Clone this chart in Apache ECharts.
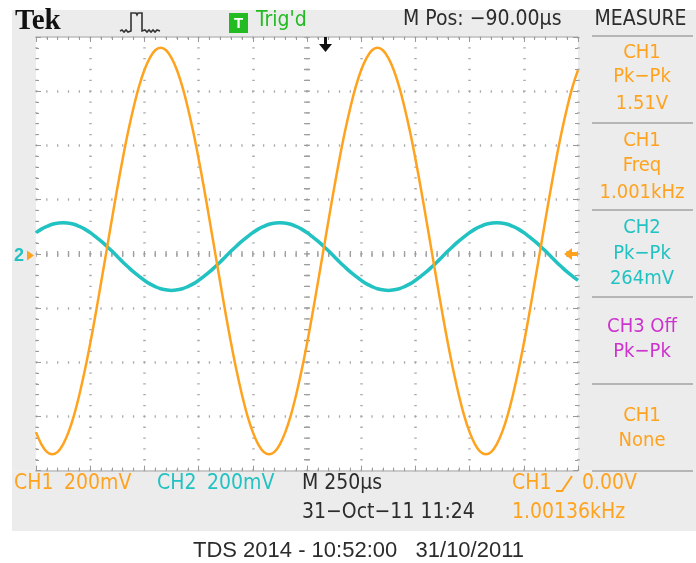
<!DOCTYPE html>
<html><head><meta charset="utf-8">
<script src="https://cdn.jsdelivr.net/npm/echarts@6.0.0/dist/echarts.min.js"></script>
<style>html,body{margin:0;padding:0;background:#fff}#c{width:696px;height:563px}</style>
</head><body><div id="c"></div>
<script>
// ---- data ----
const timeStartUs = -1250;   // left edge of screen (10 div x 250 us)
const timeStepUs = 25;       // spacing of read samples
const xMinUs = -1250, xMaxUs = 1250, xDivUs = 250;
const yMinMv = -800, yMaxMv = 800, yDivMv = 200;
// CH1 (orange), mV
const ch1mV = [-658,-703,-731,
 -740,-731,-703,-658,-597,-520,-431,-331,-222,-107,10,127,242,351,451,540,617,678,723,751,760,751,723,678,617,540,451,351,242,127,10,-107,-222,-331,-431,-520,-597,-658,-703,-731,
 -740,-731,-703,-658,-597,-520,-431,-331,-222,-107,10,127,242,351,451,540,617,678,723,751,760,751,723,678,617,540,451,351,242,127,10,-107,-222,-331,-431,-520,-597,-658,-703,-731,
 -740,-731,-703,-658,-597,-520,-431,-331,-222,-107,10,127,242,351,451,540,617,678];
// CH2 (cyan), mV
const ch2mV = [78,91,101,109,113,
 115,113,109,101,91,78,63,47,29,10,-10,-30,-49,-67,-83,-98,-111,-121,-129,-133,-135,-133,-129,-121,-111,-98,-83,-67,-49,-30,-10,10,29,47,63,78,91,101,109,113,
 115,113,109,101,91,78,63,47,29,10,-10,-30,-49,-67,-83,-98,-111,-121,-129,-133,-135,-133,-129,-121,-111,-98,-83,-67,-49,-30,-10,10,29,47,63,78,91,101,109,113,
 115,113,109,101,91,78,63,47,29,10,-10,-30,-49,-67,-83,-98];
const measureLines = [
  ['CH1','o'],['Pk−Pk','o'],['1.51V','o'],
  ['CH1','o'],['Freq','o'],['1.001kHz','o'],
  ['CH2','c'],['Pk−Pk','c'],['264mV','c'],
  ['CH3 Off','m'],['Pk−Pk','m'],
  ['CH1','o'],['None','o']
];
const headerTexts = { brand:'Tek', trig:"Trig'd", mpos:'M Pos: −90.00µs', measure:'MEASURE' };
const footerTexts = { ch1:'CH1', ch1v:'200mV', ch2:'CH2', ch2v:'200mV', tb:'M 250µs', date:'31−Oct−11 11:24',
  trigCh:'CH1', trigLvl:'0.00V', trigFreq:'1.00136kHz' };
const titleText = 'TDS 2014 - 10:52:00   31/10/2011';

// ---- styling ----
const ORANGE = '#ffa31f', CYAN = '#22c2c2', MAGENTA = '#cc33cc', GREEN = '#22bb22', DARK = '#2c2c2c', PANEL = '#ececec';
const TEK_FONT = '"Liberation Sans Narrow","DejaVu Sans Condensed","Liberation Sans",sans-serif';
const colorOf = { o: ORANGE, c: CYAN, m: MAGENTA };
const G = { left: 36, top: 37, width: 542, height: 433.6 };
const minor = G.width / 50; // 0.2 div in px

function txt(text, x, y, fill, size, align, extra) {
  return Object.assign({ type: 'text', x: x, y: y, silent: true, z: 10,
    style: Object.assign({ text: text, fill: fill, fontSize: size, fontFamily: TEK_FONT,
      align: align || 'left', verticalAlign: 'middle', textAlign: align || 'left', textVerticalAlign: 'middle' }, extra || {}) });
}

const chart = echarts.init(document.getElementById('c'), null, { renderer: 'canvas' });
const toPairs = arr => arr.map((v, i) => [timeStartUs + i * timeStepUs, v]);

const graphics = [
  { type: 'rect', shape: { x: 12, y: 10, width: 684, height: 27 }, style: { fill: PANEL }, silent: true, z: -5 },
  { type: 'rect', shape: { x: 12, y: G.top + G.height, width: 684, height: 531 - G.top - G.height }, style: { fill: PANEL }, silent: true, z: -5 },
  { type: 'rect', shape: { x: 12, y: G.top, width: G.left - 12, height: G.height }, style: { fill: PANEL }, silent: true, z: -5 },
  { type: 'rect', shape: { x: G.left + G.width, y: G.top, width: 696 - G.left - G.width, height: G.height }, style: { fill: PANEL }, silent: true, z: -5 }
];
[36, 123, 210, 297, 384, 471].forEach(y => graphics.push({ type: 'line', shape: { x1: 592, y1: y, x2: 693, y2: y }, style: { stroke: '#a3a3a3', lineWidth: 1.5 }, silent: true, z: 10 }));
// header
graphics.push(txt(headerTexts.brand, 15, 22, '#111', 29, 'left', { fontFamily: '"Liberation Serif","DejaVu Serif",serif', fontWeight: 'bold' }));
graphics.push({ type: 'polyline', shape: { points: [[120,31],[122,30],[124,32],[126,30],[128,32],[131,31],[131,13],[136,13],[137,15],[138,13],[142,13],[142,31],[145,30],[147,32],[149,30],[151,32],[153,30],[155,32],[157,30],[160,31]] }, style: { stroke: '#333', lineWidth: 1.6, fill: null }, silent: true, z: 10 });
graphics.push({ type: 'rect', shape: { x: 229, y: 13, width: 19, height: 20 }, style: { fill: GREEN }, silent: true, z: 10 });
graphics.push(txt('T', 238.5, 23.5, '#fff', 15, 'center', { fontWeight: 'bold', fontFamily: '"Liberation Sans",sans-serif' }));
graphics.push(txt(headerTexts.trig, 256, 21, GREEN, 21));
graphics.push(txt(headerTexts.mpos, 403, 20, DARK, 21));
graphics.push(txt(headerTexts.measure, 640.5, 20, DARK, 21, 'center'));
// measure panel
const measureY = [53, 77, 103.5, 141, 166, 193, 228, 253.5, 278.5, 326.5, 352, 415.5, 441];
measureLines.forEach((m, i) => graphics.push(txt(m[0], 642, measureY[i], colorOf[m[1]], 20, 'center')));
// footer
graphics.push(txt(footerTexts.ch1, 14, 484, ORANGE, 21));
graphics.push(txt(footerTexts.ch1v, 64, 484, ORANGE, 21));
graphics.push(txt(footerTexts.ch2, 157, 484, CYAN, 21));
graphics.push(txt(footerTexts.ch2v, 207, 484, CYAN, 21));
graphics.push(txt(footerTexts.tb, 302, 484, DARK, 21));
graphics.push(txt(footerTexts.date, 302, 512.5, DARK, 21));
graphics.push(txt(footerTexts.trigCh, 512, 484, ORANGE, 21));
graphics.push({ type: 'polyline', shape: { points: [[556,491],[562,491],[572,476]] }, style: { stroke: ORANGE, lineWidth: 2, fill: null }, silent: true, z: 10 });
graphics.push(txt(footerTexts.trigLvl, 582, 484, ORANGE, 21));
graphics.push(txt(footerTexts.trigFreq, 512, 512.5, ORANGE, 21));
graphics.push(txt(titleText, 358.5, 551, DARK, 22, 'center', { fontFamily: '"Liberation Sans",Arial,sans-serif' }));
// markers
graphics.push({ type: 'polygon', shape: { points: [[324,37],[327,37],[327,44],[332,44],[325.5,52],[319,44],[324,44]] }, style: { fill: '#111' }, silent: true, z: 10 });
graphics.push({ type: 'polygon', shape: { points: [[564,254],[572,248],[572,252],[578,252],[578,256],[572,256],[572,260]] }, style: { fill: ORANGE }, silent: true, z: 10 });
graphics.push(txt('2', 19, 256, CYAN, 18, 'center', { fontWeight: 'bold', fontFamily: '"Liberation Sans",sans-serif' }));
graphics.push({ type: 'polygon', shape: { points: [[27,250.5],[34,255.5],[27,260.5]] }, style: { fill: ORANGE }, silent: true, z: 10 });

const dotLine = { color: '#ababab', width: 2.5, type: [1.3, minor - 1.3], dashOffset: 0.65 };
function xAx(pos, split) {
  return { type: 'value', position: pos, min: xMinUs, max: xMaxUs, interval: xDivUs,
    axisLine: { show: true, onZero: false, lineStyle: { color: '#bdbdbd', width: 1.5 } },
    axisTick: { show: true, inside: true, length: 5, lineStyle: { color: '#999' } },
    minorTick: { show: true, splitNumber: 5, length: 3, lineStyle: { color: '#999' } },
    axisLabel: { show: false }, splitLine: { show: split, lineStyle: dotLine }, minorSplitLine: { show: false } };
}
function yAx(pos, split) {
  return { type: 'value', position: pos, min: yMinMv, max: yMaxMv, interval: yDivMv,
    axisLine: { show: false, onZero: false },
    axisTick: { show: true, inside: true, length: 5, lineStyle: { color: '#999' } },
    minorTick: { show: true, splitNumber: 5, length: 3, lineStyle: { color: '#999' } },
    axisLabel: { show: false }, splitLine: { show: split, lineStyle: dotLine }, minorSplitLine: { show: false } };
}

chart.setOption({
  animation: false,
  backgroundColor: '#fff',
  grid: { left: G.left, top: G.top, width: G.width, height: G.height, containLabel: false, show: false },
  xAxis: [xAx('bottom', true), xAx('top', false)],
  yAxis: [yAx('left', true), yAx('right', false)],
  graphic: { elements: graphics },
  series: [
    { type: 'line', data: [], silent: true, z: 1,
      markLine: { silent: true, z: 1, symbol: ['none', 'none'], label: { show: false }, animation: false,
        lineStyle: { color: '#9e9e9e', width: 6, type: [1.3, minor - 1.3], dashOffset: 0.65 },
        emphasis: { disabled: true },
        data: [{ yAxis: 0 }, { xAxis: 0 }] } },
    { name: 'CH2', type: 'line', data: toPairs(ch2mV), showSymbol: false, smooth: 0.4, z: 3,
      lineStyle: { color: CYAN, width: 3.5 }, silent: true },
    { name: 'CH1', type: 'line', data: toPairs(ch1mV), showSymbol: false, smooth: 0.4, z: 4,
      lineStyle: { color: ORANGE, width: 2.5 }, silent: true }
  ]
});
</script></body></html>
